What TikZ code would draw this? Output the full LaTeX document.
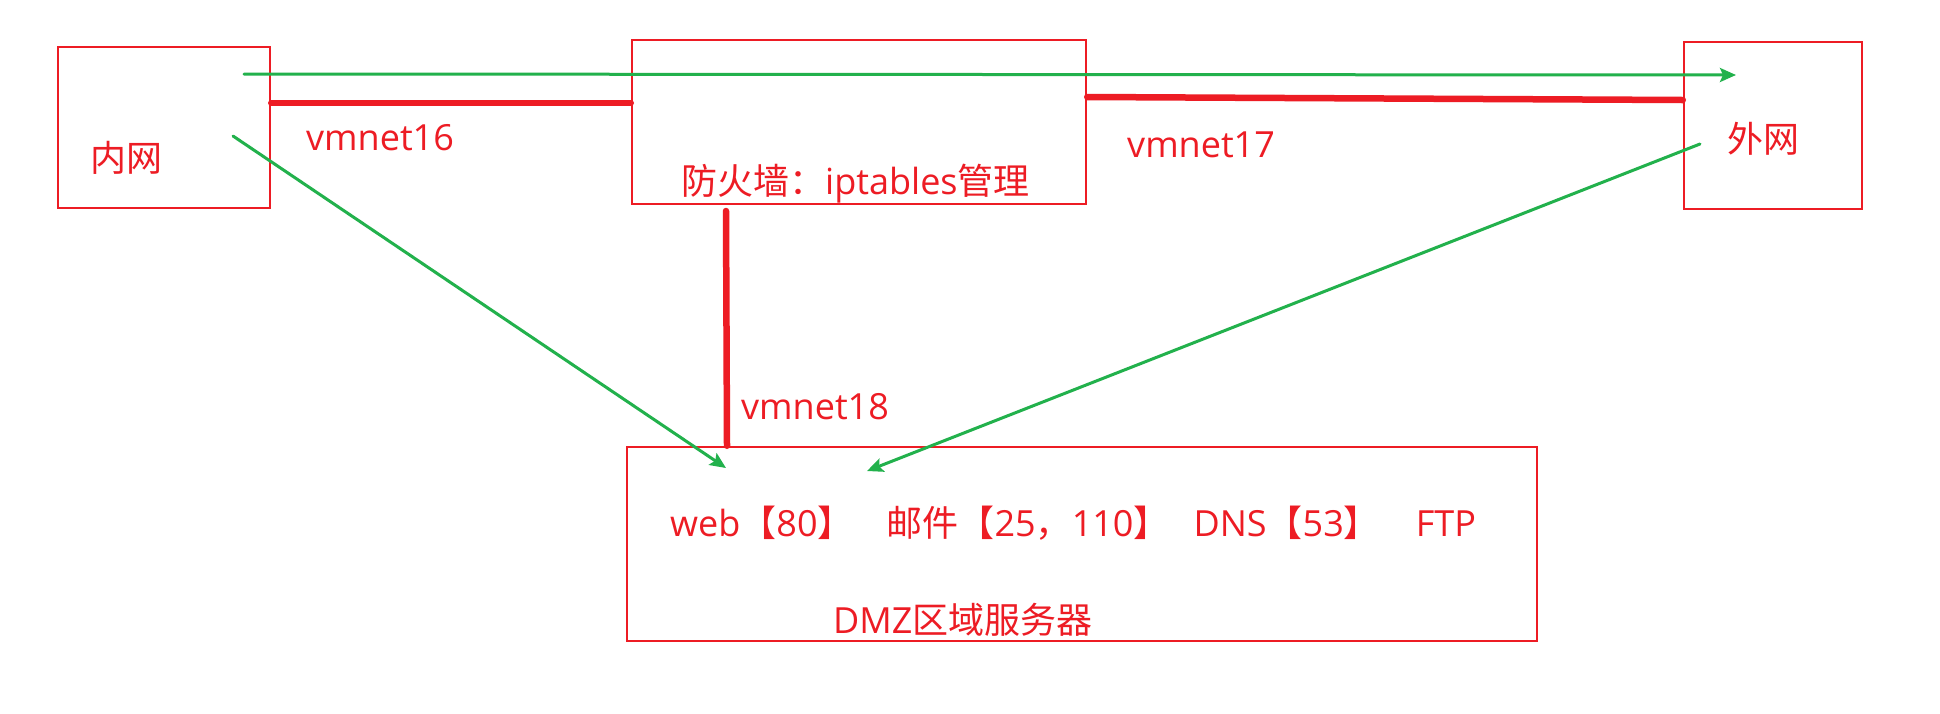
\documentclass[tikz,border=0pt]{standalone}
\usepackage{fontspec}
\setmainfont{Open Sans}
\newfontfamily\cjk{Noto Sans CJK SC}
\usetikzlibrary{arrows.meta}
\definecolor{pred}{HTML}{ED1C24}
\definecolor{pgreen}{HTML}{22B14C}
\begin{document}
\begin{tikzpicture}[x=1pt,y=-1pt,
  box/.style={draw=pred,line width=2.5pt,inner sep=0pt},
  lbl/.style={text=pred,font=\fontsize{36}{40}\selectfont,inner sep=0pt,anchor=base west},
  link/.style={draw=pred,line width=6.5pt,line cap=round},
  flow/.style={draw=pgreen,line width=3pt,line cap=round,-{Stealth[length=16pt,width=14pt,inset=3pt]}}]
\fill[white] (0,0) rectangle (1940,713);
\useasboundingbox (0,0) rectangle (1940,713);
% boxes
\node[box,minimum width=212pt,minimum height=161pt] (nei) at (164,127.5) {};
\node[box,minimum width=454pt,minimum height=164pt] (fw) at (859,122) {};
\node[box,minimum width=178pt,minimum height=167pt] (wai) at (1773,125.5) {};
\node[box,minimum width=910pt,minimum height=194pt] (dmz) at (1082,544) {};
% labels
\node[lbl] (tnei) at (90,171) {\cjk 内网};
\node[lbl] (t16) at (306,150) {vmnet16};
\node[lbl] (tfw) at (681,194) {{\cjk 防火墙：}iptables{\cjk 管理}};
\node[lbl] (t17) at (1127,157) {vmnet17};
\node[lbl] (twai) at (1727,152) {\cjk 外网};
\node[lbl] (t18) at (741,419) {vmnet18};
\node[lbl] (tsvc) at (670,536) {web{\cjk 【}80{\cjk 】}\hspace{33pt}{\cjk 邮件【}25{\cjk ，}110{\cjk 】}\hspace{24pt}DNS{\cjk 【}53{\cjk 】}\hspace{36pt}FTP};
\node[lbl] (tdmz) at (833,633) {DMZ{\cjk 区域服务器}};
% red links
\coordinate (v18top) at (726,211);
\draw[link] (nei.east |- 0,103) -- (fw.west |- 0,103);
\draw[link] (fw.east |- 0,97) -- (wai.west |- 0,100);
\draw[link] (v18top) -- (dmz.north -| 727,0);
% green flows
\coordinate (g1s) at (244,74);
\coordinate (g1e) at (1736,75);
\coordinate (g2s) at (233,136);
\coordinate (g2e) at (726,468);
\coordinate (g3s) at (1700,144);
\coordinate (g3e) at (867,471);
\draw[flow] (g1s) -- (g1e);
\draw[flow] (g2s) -- (g2e);
\draw[flow] (g3s) -- (g3e);
\end{tikzpicture}
\end{document}
